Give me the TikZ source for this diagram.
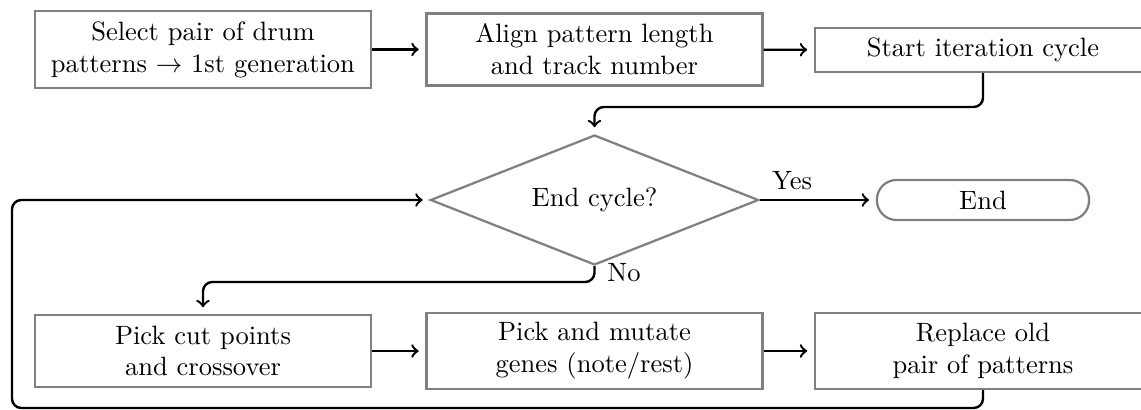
\documentclass[tikz,border=0pt]{standalone}
\usetikzlibrary{shapes.geometric}
\begin{document}
\begin{tikzpicture}[x=0.377pt,y=-0.377pt,
  box/.style={draw=black!50, line width=0.85pt, align=center, inner sep=2pt, minimum width=126.7pt},
  dia/.style={draw=black!50, line width=0.85pt, shape=diamond, aspect=2.52, inner sep=0pt, minimum width=123.7pt, minimum height=49pt},
  term/.style={draw=black!50, line width=0.85pt, rounded corners=7.4pt, minimum width=80pt, minimum height=15.1pt, inner sep=2pt},
  conn/.style={->, line width=0.9pt, shorten >=2.5pt, rounded corners=3.5pt}]
\useasboundingbox (0,0) rectangle (1141,410);
\clip (0,0) rectangle (1141,410);
\node[box, minimum height=29pt] (b1) at (203,49.5) {Select pair of drum\\patterns $\rightarrow$ 1st generation};
\node[box, minimum height=27.1pt] (b2) at (594.5,49.5) {Align pattern length\\and track number};
\node[box, minimum height=16.6pt] (b3) at (983,50) {Start iteration cycle};
\node[dia] (dec) at (594.5,200) {End cycle?};
\node[term] (end) at (983,200) {End};
\node[box, minimum height=27.1pt] (b4) at (203,351) {Pick cut points\\and crossover};
\node[box, minimum height=28.7pt] (b5) at (594.5,351) {Pick and mutate\\genes (note/rest)};
\node[box, minimum height=28.7pt] (b6) at (983,351) {Replace old\\pair of patterns};
\coordinate (t1) at (983,107);
\coordinate (t2) at (594.5,282);
\coordinate (t3) at (12,408);
\draw[conn] (b1) -- (b2);
\draw[conn] (b2) -- (b3);
\draw[conn] (b3.south) -- (t1) -| (dec.north);
\draw[conn] (dec.east) -- node[above, pos=0.28] {Yes} (end.west);
\draw[conn] (dec.south) -- (t2) -| (b4.north);
\node[anchor=west] (nolab) at (598,273) {No};
\draw[conn] (b4) -- (b5);
\draw[conn] (b5) -- (b6);
\draw[conn] (b6.south) |- (t3) |- (dec.west);
\end{tikzpicture}
\end{document}
